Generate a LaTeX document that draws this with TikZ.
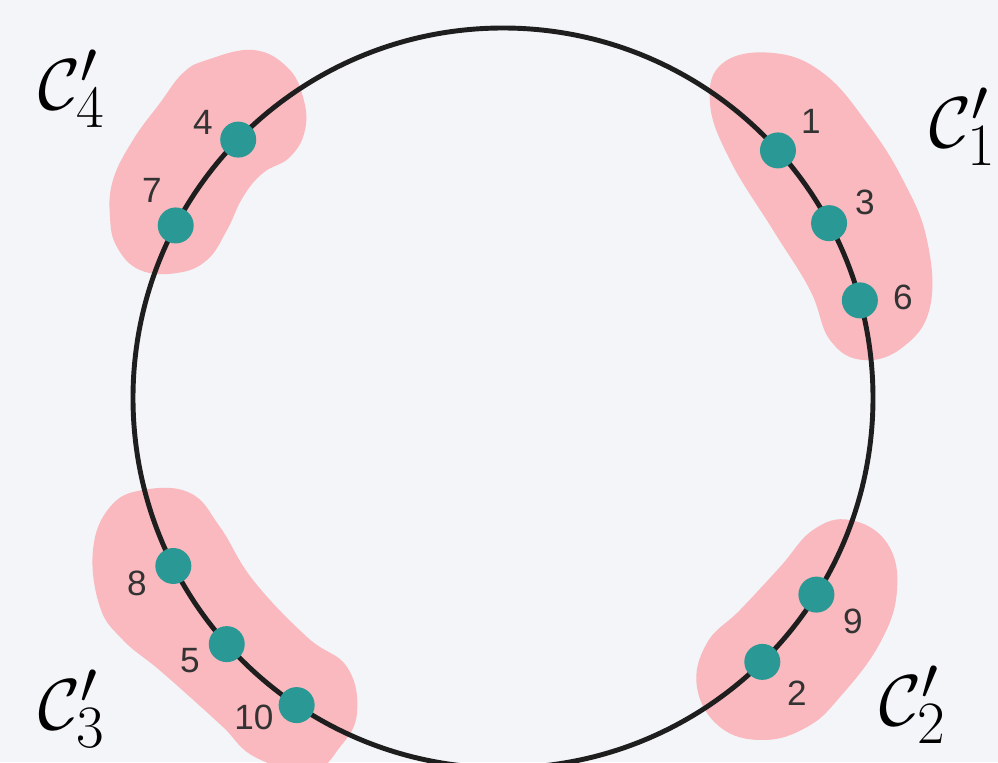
\documentclass[tikz,border=0pt]{standalone}
\usepackage[no-math]{fontspec}
\newfontfamily\numfont{Liberation Sans}
\definecolor{bgpaper}{HTML}{F3F5F9}
\definecolor{blobpink}{HTML}{F9B9BE}
\definecolor{dotteal}{HTML}{2A9895}
\definecolor{ringdark}{HTML}{1E1E1E}
\definecolor{numgray}{HTML}{333333}
\tikzset {
  every node/.style={inner sep=0pt},
  ring/.style={line width=2.8pt, draw=ringdark},
  blob/.style={fill=blobpink},
  dot/.style={circle, fill=dotteal, minimum size=0.72cm},
  num/.style={font=\numfont\fontsize{20}{22}\selectfont, text=numgray},
  cluster/.style={anchor=west, font=\Huge, scale=1.65},
}

\begin{document}
\begin{tikzpicture}[x=0.02cm,y=0.02cm]
  \fill[bgpaper] (0,0) rectangle (998,762);
  \clip (0,0) rectangle (998,762);

  % clusters
  \fill[blob] plot[smooth cycle, tension=0.7] coordinates {(207,702) (253,712) (287,695) (303,665) (305,632) (290,605) (263,589) (243,565) (227,532) (207,502) (177,489) (140,492) (117,515) (110,545) (113,582) (133,622) (160,659) (183,689)};
  \fill[blob] plot[smooth cycle, tension=0.7] coordinates {(723,699) (773,709) (823,689) (867,639) (903,582) (927,522) (930,455) (903,415) (863,402) (830,422) (810,472) (773,532) (730,602) (710,659)};
  \fill[blob] plot[smooth cycle, tension=0.7] coordinates {(143,272) (190,269) (220,235) (253,182) (307,125) (347,95) (357,49) (340,15) (310,-10) (255,5) (223,35) (190,65) (157,94) (123,122) (100,155) (93,212) (110,255)};
  \fill[blob] plot[smooth cycle, tension=0.7] coordinates {(850,242) (887,219) (897,172) (880,119) (840,65) (807,35) (763,22) (720,35) (697,75) (707,119) (740,152) (780,195) (813,232)};

  \begin{scope}[shift={(503,364)}]
    \draw[ring] (0,0) circle[radius=370];

    \node[dot] (p1) at (42:370) {};
    \node[dot] (p3) at (28.2:370) {};
    \node[dot] (p6) at (15.3:370) {};
    \node[dot] (p9) at (-32.1:370) {};
    \node[dot] (p2) at (-45.5:370) {};
    \node[dot] (p10) at (-123.9:370) {};
    \node[dot] (p5) at (-138.3:370) {};
    \node[dot] (p8) at (-153:370) {};
    \node[dot] (p7) at (152.2:370) {};
    \node[dot] (p4) at (135.7:370) {};
  \end{scope}

  \node[num] (l1) at (811,641) {1};
  \node[num] (l3) at (865,560) {3};
  \node[num] (l6) at (903,465) {6};
  \node[num] (l9) at (853,141) {9};
  \node[num] (l2) at (797,69) {2};
  \node[num] (l10) at (254,45) {10};
  \node[num] (l5) at (190,101) {5};
  \node[num] (l8) at (137,179) {8};
  \node[num] (l7) at (152,572) {7};
  \node[num] (l4) at (203,640) {4};

  \node[cluster] (c4) at (38,673) {$\mathcal{C}'_4$};
  \node[cluster] (c1) at (929,635) {$\mathcal{C}'_1$};
  \node[cluster] (c3) at (38,53) {$\mathcal{C}'_3$};
  \node[cluster] (c2) at (879,57) {$\mathcal{C}'_2$};
\end{tikzpicture}
\end{document}
